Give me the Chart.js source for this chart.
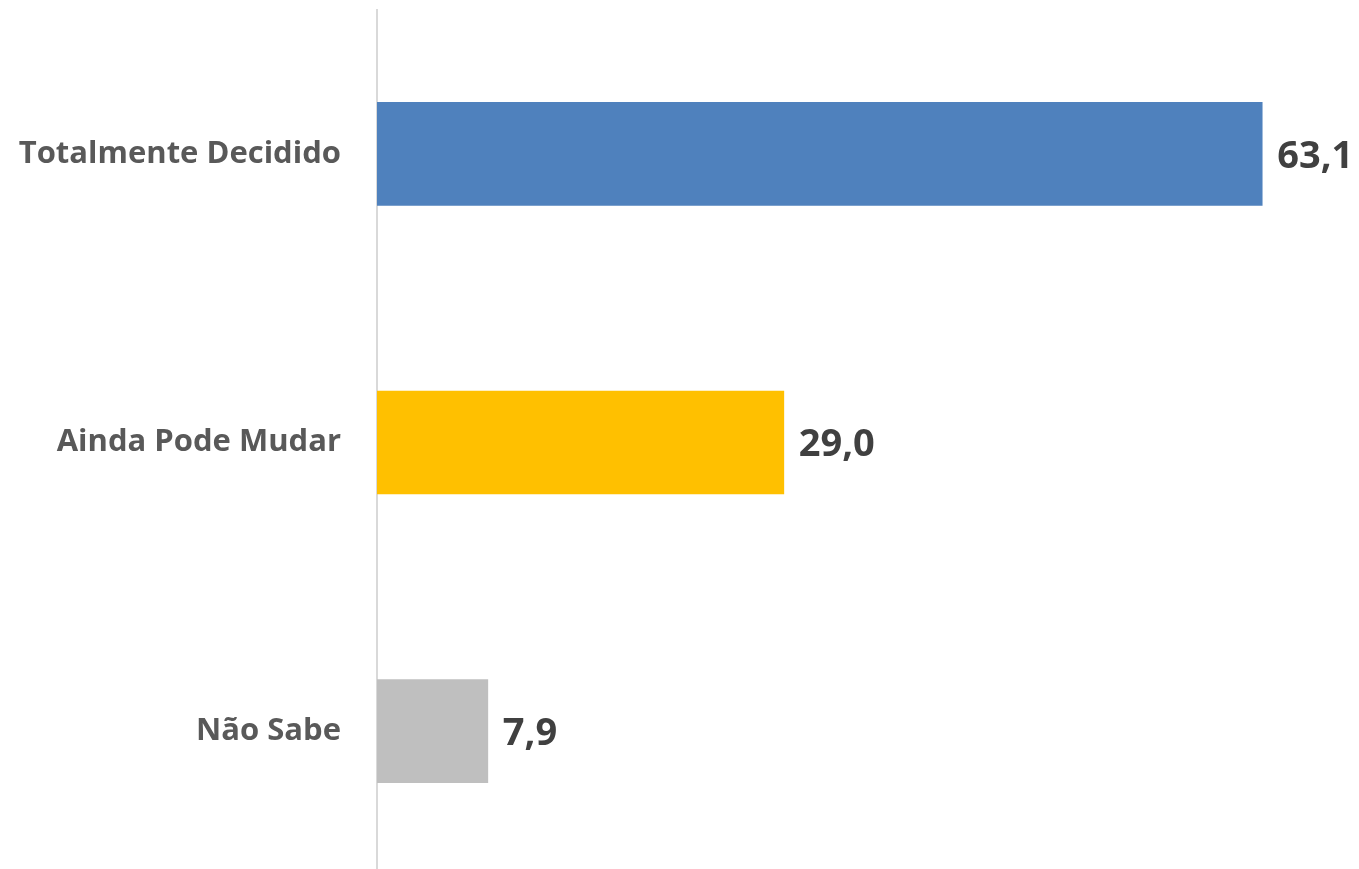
<!DOCTYPE html>
<html>
<head>
<meta charset="utf-8">
<script src="https://cdn.jsdelivr.net/npm/chart.js@4"></script>
<style>
    html, body { margin: 0; padding: 0; background: #fff; overflow: hidden; }
    #wrap { width: 1359px; height: 959px; margin-top: -37px; position: relative; }
</style>
</head>
<body>
<div id="wrap"><canvas id="chartDecisao"></canvas></div>
<script>
// dados
const categorias = ['Totalmente Decidido', 'Ainda Pode Mudar', 'Não Sabe'];
const valores = [63.1, 29.0, 7.9];
const cores = ['#4f81bd', '#ffc000', '#bfbfbf'];

// rótulos de valor na ponta das barras
const rotuloValor = {
    id: 'rotuloValor',
    afterDatasetsDraw(chart) {
        const ctx = chart.ctx;
        const meta = chart.getDatasetMeta(0);
        ctx.save();
        ctx.font = 'bold 38px "Open Sans"';
        ctx.fillStyle = '#404040';
        ctx.textAlign = 'left';
        ctx.textBaseline = 'middle';
        meta.data.forEach((bar, i) => {
            ctx.fillText(valores[i].toFixed(1).replace('.', ','), bar.x + 15, bar.y + 3);
        });
        ctx.restore();
    }
};

new Chart(document.getElementById('chartDecisao'), {
    type: 'bar',
    data: {
        labels: categorias,
        datasets: [{
            data: valores,
            backgroundColor: cores,
            barThickness: 103
        }]
    },
    options: {
        indexAxis: 'y',
        responsive: true,
        maintainAspectRatio: false,
        animation: false,
        layout: { padding: 0 },
        plugins: {
            legend: { display: false },
            tooltip: { enabled: false }
        },
        scales: {
            x: {
                display: false,
                min: 0,
                max: 70
            },
            y: {
                grid: { display: false },
                border: { display: true, color: '#d9d9d9', width: 2 },
                ticks: {
                    color: '#595959',
                    font: { family: '"Open Sans"', size: 31, weight: 'bold' },
                    padding: 28
                },
                afterFit(scale) { scale.width = 377; }
            }
        }
    },
    plugins: [rotuloValor]
});
</script>
</body>
</html>
